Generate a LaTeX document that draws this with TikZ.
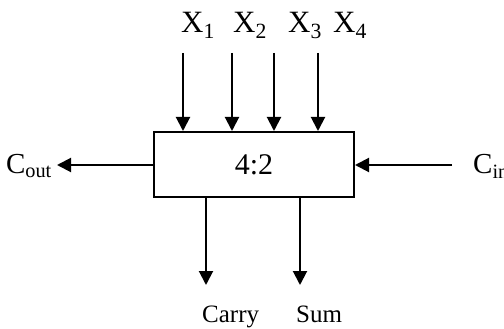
\documentclass[tikz,border=0pt]{standalone}
\usepackage{fontspec}
\setmainfont{Liberation Serif}
\usetikzlibrary{arrows.meta,positioning}

\begin{document}
\begin{tikzpicture}[
  x=1pt,y=-1pt,>={Triangle[length=14pt,width=14pt]},
  sig/.style={->,black,line width=2pt},
  cellbox/.style={draw,black,line width=2pt,minimum width=200pt,minimum height=65pt,
    inner sep=0pt,font=\fontsize{30}{33}\selectfont},
  inlabel/.style={inner sep=0pt,font=\fontsize{31}{34}\selectfont},
  sidelabel/.style={inner sep=0pt,font=\fontsize{29}{32}\selectfont},
  outlabel/.style={inner sep=0pt,font=\fontsize{25}{28}\selectfont}
]
\useasboundingbox (0,0) rectangle (504,329);
% the 4:2 compressor cell
\node[cellbox] (cell) at (254,164.5) {4:2};
% the four inputs
\node[inlabel,anchor=base west] (lx1) at (181,33) {X\textsubscript{1}};
\node[inlabel,anchor=base west] (lx2) at (233,33) {X\textsubscript{2}};
\node[inlabel,anchor=base west] (lx3) at (288,33) {X\textsubscript{3}};
\node[inlabel,anchor=base west] (lx4) at (333,33) {X\textsubscript{4}};
\coordinate (x1) at (183,53);
\coordinate (x2) at (232,53);
\coordinate (x3) at (274,53);
\coordinate (x4) at (318,53);
\foreach \i in {1,...,4}
  \draw[sig] (x\i) -- (x\i |- cell.north);
% carries
\node[sidelabel,anchor=east] (cout) at (52,166) {C\textsubscript{out}};
\node[sidelabel,anchor=west] (cin) at (473,166) {C\textsubscript{in}};
\coordinate (coutend) at (57,165);
\coordinate (cinstart) at (452,165);
\draw[sig] (cell.west |- coutend) -- (coutend);
\draw[sig] (cinstart) -- (cinstart -| cell.east);
% outputs
\coordinate (carryend) at (206,285);
\coordinate (sumend) at (300,285);
\draw[sig] (carryend |- cell.south) -- (carryend);
\draw[sig] (sumend |- cell.south) -- (sumend);
\node[outlabel,anchor=base west] (lcarry) at (202,322) {Carry};
\node[outlabel,anchor=base west] (lsum) at (296,322) {Sum};
\end{tikzpicture}
\end{document}
